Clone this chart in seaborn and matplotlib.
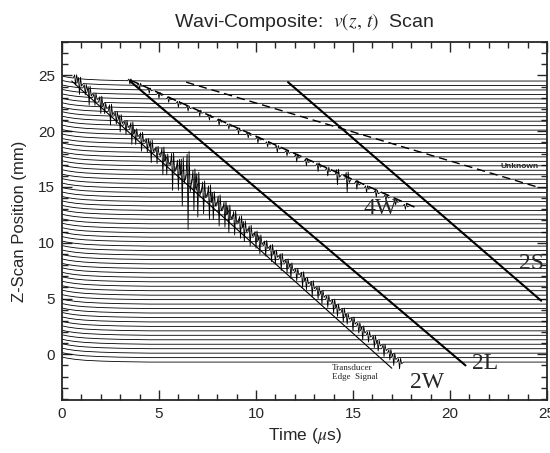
import numpy as np
import pandas as pd
import matplotlib
matplotlib.use("Agg")
import matplotlib.pyplot as plt
from matplotlib.ticker import MultipleLocator
import seaborn as sns

# ----------------------------------------------------------------------
# Data
# ----------------------------------------------------------------------
# baseline z position (mm) of each trace, top to bottom
z_base = [24.5, 24.1, 23.7, 23.3, 22.9, 22.5, 22.1, 21.7, 21.3, 20.9,
          20.5, 20.1, 19.7, 19.3, 18.9, 18.5, 18.1, 17.7, 17.3, 16.9,
          16.5, 16.1, 15.7, 15.3, 14.9, 14.5, 14.1, 13.7, 13.3, 12.9,
          12.5, 12.1, 11.7, 11.3, 10.9, 10.5, 10.1, 9.7, 9.3, 8.9,
          8.5, 8.1, 7.7, 7.3, 6.9, 6.5, 6.1, 5.7, 5.3, 4.9,
          4.5, 4.1, 3.7, 3.3, 2.9, 2.5, 2.1, 1.7, 1.3, 0.9,
          0.5, 0.1, -0.3, -0.7]

# 2W arrival time (us) and wavelet amplitude (mm) on each trace
t_2w = [0.7, 0.9, 1.2, 1.4, 1.7, 2.0, 2.2, 2.5, 2.8, 3.0,
        3.3, 3.6, 3.8, 4.1, 4.4, 4.6, 4.9, 5.2, 5.4, 5.7,
        6.0, 6.2, 6.5, 6.8, 7.0, 7.3, 7.6, 7.8, 8.1, 8.4,
        8.6, 8.9, 9.2, 9.4, 9.7, 10.0, 10.2, 10.5, 10.8, 11.0,
        11.3, 11.6, 11.8, 12.1, 12.4, 12.6, 12.9, 13.2, 13.4, 13.7,
        14.0, 14.2, 14.5, 14.7, 15.0, 15.3, 15.5, 15.8, 16.1, 16.3,
        16.6, 16.9, 17.1, 17.4]
amp_2w = [0.6, 1.0, 0.6, 1.1, 0.7, 1.0, 0.6, 1.2, 0.7, 1.0,
          0.8, 1.3, 0.9, 1.1, 0.8, 1.3, 1.0, 1.6, 1.2, 2.2,
          1.8, 2.8, 4.5, 2.4, 2.6, 1.9, 2.0, 1.6, 1.8, 1.5,
          1.6, 1.4, 1.3, 1.2, 1.2, 1.0, 1.1, 0.9, 1.0, 0.8,
          1.0, 0.8, 0.9, 0.7, 0.9, 0.7, 0.9, 0.7, 0.8, 0.7,
          0.8, 0.7, 0.8, 0.6, 0.8, 0.6, 0.8, 0.6, 0.7, 0.6,
          0.7, 0.6, 0.7, 0.6]

# 4W arrival time (us) and amplitude on the upper traces
t_4w = [3.5, 4.0, 4.5, 5.0, 5.5, 6.0, 6.5, 7.1, 7.6, 8.1,
        8.6, 9.1, 9.6, 10.1, 10.6, 11.1, 11.6, 12.1, 12.6, 13.2,
        13.7, 14.2, 14.7, 15.2, 15.7, 16.2, 16.7, 17.2, 17.7]
amp_4w = [0.3, 0.35, 0.3, 0.35, 0.3, 0.35, 0.3, 0.35, 0.3, 0.35,
          0.3, 0.35, 0.3, 0.35, 0.3, 0.4, 0.3, 0.45, 0.4, 0.5,
          0.5, 0.9, 1.2, 0.5, 0.4, 0.4, 0.35, 0.3, 0.3]

# slow decay at the start of each trace
base_t = [0.0, 0.3, 0.7, 1.2, 2.0, 3.0, 4.5, 25.0]
base_off = [0.45, 0.34, 0.24, 0.16, 0.09, 0.04, 0.0, 0.0]

# wavelet template
wave_dt = [-0.12, -0.05, 0.0, 0.05, 0.11, 0.2]
wave_shape = [0.0, 0.5, -1.0, 0.55, -0.25, 0.0]

# fitted arrival lines: (t start, t end), (z start, z end)
edge_t, edge_z = [0.5, 17.0], [24.5, -1.25]
l2l_t, l2l_z = [3.5, 20.8], [24.5, -1.0]
l2s_t, l2s_z = [11.65, 24.7], [24.4, 4.8]
l4w_t, l4w_z = [3.5, 18.3], [24.6, 13.1]
unk_t, unk_z = [6.4, 24.5], [24.4, 15.0]

# ----------------------------------------------------------------------
# Build the traces
# ----------------------------------------------------------------------
rows = []
for i, z in enumerate(z_base):
    wav = [(t_2w[i], amp_2w[i])]
    if i < len(t_4w):
        wav.append((t_4w[i], amp_4w[i]))
    times = list(base_t)
    for ta, _ in wav:
        times += [ta + d for d in wave_dt]
    times = np.array(sorted(times))
    y = z + np.interp(times, base_t, base_off)
    for ta, a in wav:
        y = y + np.interp(times, [ta + d for d in wave_dt],
                          [a * s for s in wave_shape], left=0, right=0)
    for tt, yy in zip(times, y):
        rows.append({"trace": i, "t": tt, "z": yy})
df = pd.DataFrame(rows)

# ----------------------------------------------------------------------
# Plot
# ----------------------------------------------------------------------
sns.set_style("ticks")
plt.rcParams["font.family"] = ["Liberation Sans", "DejaVu Sans"]
plt.rcParams["mathtext.fontset"] = "stix"

fig = plt.figure(figsize=(5.5, 4.53), dpi=100)
ax = fig.add_axes([62 / 550, 53 / 453, 485 / 550, 358 / 453])

sns.lineplot(data=df, x="t", y="z", units="trace", estimator=None, sort=False,
             color="black", lw=0.6, legend=False, ax=ax)

ax.plot(edge_t, edge_z, color="black", lw=0.8)
ax.plot(l2l_t, l2l_z, color="black", lw=1.5)
ax.plot(l2s_t, l2s_z, color="black", lw=1.5)
ax.plot(l4w_t, l4w_z, color="black", lw=1.1, dashes=(6, 3))
ax.plot(unk_t, unk_z, color="black", lw=1.0, dashes=(6, 3.5))

serif = ["Liberation Serif", "DejaVu Serif"]
ax.text(16.4, 13.1, "4W", family=serif, fontsize=17, ha="center", va="center")
ax.text(24.2, 8.1, "2S", family=serif, fontsize=17, ha="center", va="center")
ax.text(21.8, -0.85, "2L", family=serif, fontsize=17, ha="center", va="center")
ax.text(18.8, -2.5, "2W", family=serif, fontsize=17, ha="center", va="center")
ax.text(13.9, -1.65, "Transducer\nEdge  Signal", family=serif, fontsize=6.5,
        ha="left", va="center", linespacing=1.2)
ax.text(23.6, 16.85, "Unknown", fontsize=6, fontweight="bold",
        ha="center", va="center")

ax.set_xlim(0, 25)
ax.set_ylim(-4.1, 28)
ax.xaxis.set_major_locator(MultipleLocator(5))
ax.xaxis.set_minor_locator(MultipleLocator(1))
ax.yaxis.set_major_locator(MultipleLocator(5))
ax.yaxis.set_minor_locator(MultipleLocator(1))
ax.tick_params(which="both", direction="in", top=True, right=True,
               width=1.0, labelsize=11, pad=5)
ax.tick_params(which="major", length=7)
ax.tick_params(which="minor", length=4)
for s in ax.spines.values():
    s.set_linewidth(1.3)

ax.set_xlabel(r"Time ($\mu$s)", fontsize=12.5)
ax.set_ylabel("Z-Scan Position (mm)", fontsize=12, labelpad=8)
ax.set_title(r"Wavi-Composite:  $v(z,\,t)$  Scan", fontsize=14, pad=11)

fig.savefig("out.png", dpi=100)
